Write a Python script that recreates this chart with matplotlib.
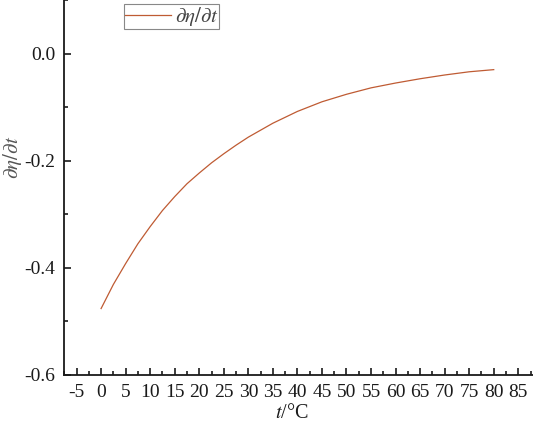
import matplotlib
matplotlib.use('Agg')
import matplotlib.pyplot as plt
from matplotlib.ticker import MultipleLocator, FormatStrFormatter

# values
temp = [0, 2.5, 5, 7.5, 10, 12.5, 15, 17.5, 20, 22.5, 25, 27.5, 30,
        35, 40, 45, 50, 55, 60, 65, 70, 75, 80]
deta_dt = [-0.476, -0.431, -0.392, -0.355, -0.323, -0.293, -0.267, -0.243,
           -0.223, -0.204, -0.187, -0.171, -0.156, -0.130, -0.108, -0.090,
           -0.076, -0.064, -0.055, -0.047, -0.040, -0.034, -0.030]

plt.rcParams['font.family'] = ['Liberation Serif', 'DejaVu Serif']
plt.rcParams['mathtext.fontset'] = 'stix'
plt.rcParams['axes.unicode_minus'] = False

fig = plt.figure(figsize=(5.33, 4.22), dpi=100)
ax = fig.add_axes([0.1206, 0.1114, 0.8794, 0.8886])

ax.plot(temp, deta_dt, color='#BF5B33', linewidth=0.9, label=r'$\partial\eta/\partial t$')

ax.set_xlim(-7.5, 88)
ax.set_ylim(-0.6, 0.1)
ax.xaxis.set_major_locator(MultipleLocator(5))
ax.xaxis.set_minor_locator(MultipleLocator(2.5))
ax.yaxis.set_major_locator(MultipleLocator(0.2))
ax.yaxis.set_minor_locator(MultipleLocator(0.1))
ax.yaxis.set_major_formatter(FormatStrFormatter('%.1f'))

for s in ['top', 'right']:
    ax.spines[s].set_visible(False)
for s in ['left', 'bottom']:
    ax.spines[s].set_linewidth(1.3)
    ax.spines[s].set_color('#1a1a1a')

ax.tick_params(which='major', direction='in', length=5, width=1.2,
               labelsize=14, colors='#1a1a1a')
ax.tick_params(which='minor', direction='in', length=3, width=1.2, colors='#1a1a1a')
ax.tick_params(axis='y', which='major', pad=6.5)
ax.tick_params(axis='x', which='major', pad=6.5)

ax.set_xlabel(r'$t$/°C', fontsize=14.5, color='#1a1a1a')
ax.set_ylabel(r'$\partial\eta/\partial t$', fontsize=15, color='#555555')
ax.xaxis.set_label_coords(0.486, -0.078)
ax.yaxis.set_label_coords(-0.085, 0.58)

leg = ax.legend(loc='upper left', bbox_to_anchor=(0.127, 0.989), borderaxespad=0,
                fontsize=15, fancybox=False, framealpha=1, edgecolor='#888888',
                handlelength=2.2, handletextpad=0.2, borderpad=0.05)
leg.get_frame().set_linewidth(0.8)
for t in leg.get_texts():
    t.set_color('#444444')

fig.savefig('out.png', dpi=100)
